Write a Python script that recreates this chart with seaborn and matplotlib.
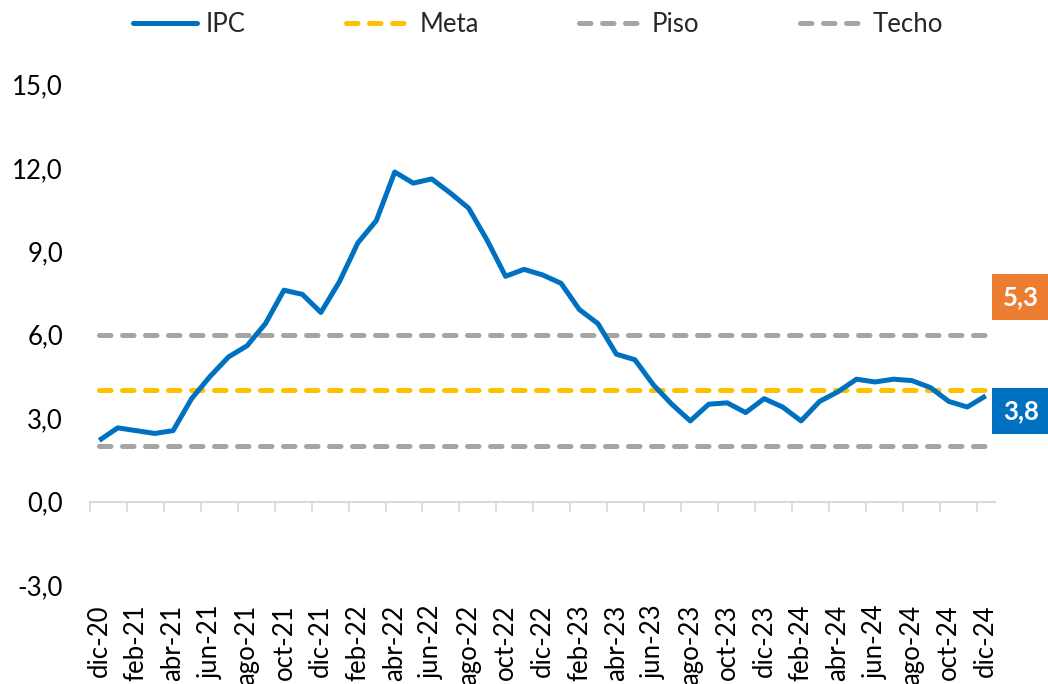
import numpy as np
import pandas as pd
import matplotlib
matplotlib.use("Agg")
import matplotlib.pyplot as plt
import seaborn as sns

# ---- data ----
months = ["dic-20", "ene-21", "feb-21", "mar-21", "abr-21", "may-21", "jun-21", "jul-21",
          "ago-21", "sep-21", "oct-21", "nov-21", "dic-21", "ene-22", "feb-22", "mar-22",
          "abr-22", "may-22", "jun-22", "jul-22", "ago-22", "sep-22", "oct-22", "nov-22",
          "dic-22", "ene-23", "feb-23", "mar-23", "abr-23", "may-23", "jun-23", "jul-23",
          "ago-23", "sep-23", "oct-23", "nov-23", "dic-23", "ene-24", "feb-24", "mar-24",
          "abr-24", "may-24", "jun-24", "jul-24", "ago-24", "sep-24", "oct-24", "nov-24",
          "dic-24"]
ipc = [2.2, 2.65, 2.55, 2.45, 2.55, 3.7, 4.5, 5.2, 5.6, 6.4, 7.6, 7.45, 6.8, 7.9, 9.3, 10.1,
       11.85, 11.45, 11.6, 11.1, 10.55, 9.4, 8.1, 8.35, 8.15, 7.85, 6.9, 6.4, 5.3, 5.1,
       4.2, 3.5, 2.9, 3.5, 3.55, 3.2, 3.7, 3.4, 2.9, 3.6, 3.95, 4.4, 4.3, 4.4, 4.35,
       4.1, 3.6, 3.4, 3.8]
meta = [4.0] * len(months)
piso = [2.0] * len(months)
techo = [6.0] * len(months)
yticks = [-3, 0, 3, 6, 9, 12, 15]
label_orange = "5,3"
label_blue = "3,8"

BLUE = "#0070C0"
GOLD = "#FFC000"
GRAY = "#A5A5A5"
ORANGE = "#ED7D31"
AXGRAY = "#D9D9D9"
FS = 18.5

sns.set_theme(style="white")
plt.rcParams["font.family"] = ["Lato", "DejaVu Sans"]

fig = plt.figure(figsize=(10.48, 6.84), dpi=100)
ax = fig.add_axes([90 / 1048, 1 - 585 / 684, (995 - 90) / 1048, (585 - 84.4) / 684])

idx = np.arange(len(months))
df = pd.DataFrame({"x": idx, "IPC": ipc, "Meta": meta, "Piso": piso, "Techo": techo})

dash = (0, (2.3, 2.3))
sns.lineplot(data=df, x="x", y="Piso", ax=ax, color=GRAY, lw=3.6, label="Piso")
sns.lineplot(data=df, x="x", y="Techo", ax=ax, color=GRAY, lw=3.6, label="Techo")
sns.lineplot(data=df, x="x", y="Meta", ax=ax, color=GOLD, lw=3.6, label="Meta")
sns.lineplot(data=df, x="x", y="IPC", ax=ax, color=BLUE, lw=3.6, label="IPC")

lines = ax.get_lines()
for ln in lines[:3]:
    ln.set_linestyle(dash)
    ln.set_dash_capstyle("round")
lines[3].set_solid_capstyle("butt")

ax.set_xlim(-0.5, len(months) - 0.5)
ax.set_ylim(-3, 15)
ax.set_yticks(yticks)
ax.set_yticklabels([f"{v:.1f}".replace(".", ",") for v in yticks])
ax.set_xticks(idx[::2])
ax.set_xticklabels(months[::2], rotation=90)
ax.tick_params(axis="x", length=0, pad=14, labelsize=FS, colors="black")
ax.tick_params(axis="y", length=0, pad=19.5, labelsize=FS, colors="black")
ax.set_xlabel("")
ax.set_ylabel("")
for s in ax.spines.values():
    s.set_visible(False)

# category axis line at y = 0 with boundary ticks
sec = ax.secondary_xaxis(3 / 18)
sec.set_xticks(np.arange(-0.5, len(months) - 0.5, 2))
sec.set_xticklabels([])
sec.tick_params(axis="x", direction="out", length=7, width=1.3, color=AXGRAY)
sec.spines["bottom"].set_color(AXGRAY)
sec.spines["bottom"].set_linewidth(1.5)

# legend
h, l = ax.get_legend_handles_labels()
order = [l.index(n) for n in ["IPC", "Meta", "Piso", "Techo"]]
leg = ax.legend([h[i] for i in order], [l[i] for i in order], loc="center",
                bbox_to_anchor=(538 / 1048, 1 - 24 / 684), bbox_transform=fig.transFigure,
                ncol=4, frameon=False, fontsize=FS, handlelength=2.5,
                columnspacing=3.9, handletextpad=0.35)
for i, lh in enumerate(leg.get_lines()):
    lh.set_linewidth(3.6)
    if i == 0:
        lh.set_solid_capstyle("round")
    else:
        lh.set_linestyle(dash)
        lh.set_dash_capstyle("round")

# value boxes
fig.text(1021 / 1048, 1 - 297 / 684, label_orange, color="white", fontsize=FS,
         fontweight="bold", ha="center", va="center",
         bbox=dict(boxstyle="square,pad=0.42", fc=ORANGE, ec="none"))
fig.text(1021 / 1048, 1 - 411 / 684, label_blue, color="white", fontsize=FS,
         fontweight="bold", ha="center", va="center",
         bbox=dict(boxstyle="square,pad=0.42", fc=BLUE, ec="none"))

fig.savefig("out.png", dpi=100)
